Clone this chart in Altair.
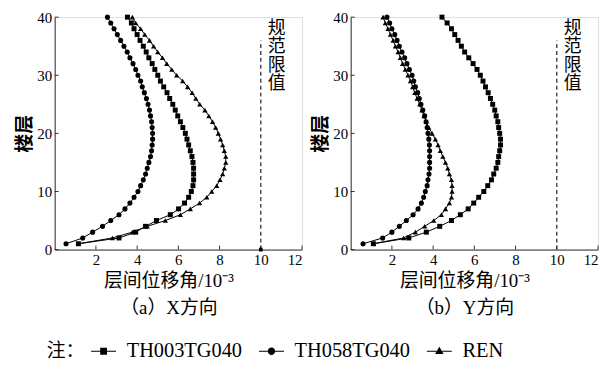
import altair as alt
import pandas as pd

floors = list(range(1, 41))
series_names = ["TH003TG040", "TH058TG040", "REN"]

# (a) X direction
x_th003 = [1.15, 3.12, 3.93, 4.41, 4.94, 5.61, 6.01, 6.30, 6.50, 6.63,
           6.71, 6.74, 6.74, 6.74, 6.71, 6.66, 6.58, 6.50, 6.42, 6.34,
           6.22, 6.10, 5.97, 5.85, 5.73, 5.58, 5.45, 5.29, 5.13, 5.00,
           4.86, 4.73, 4.57, 4.44, 4.30, 4.14, 4.00, 3.85, 3.72, 3.53]
x_th058 = [0.55, 1.36, 1.84, 2.32, 2.72, 3.12, 3.41, 3.65, 3.85, 4.04,
           4.17, 4.30, 4.41, 4.49, 4.57, 4.65, 4.70, 4.73, 4.75, 4.75,
           4.73, 4.70, 4.65, 4.60, 4.53, 4.45, 4.35, 4.25, 4.17, 4.04,
           3.93, 3.80, 3.65, 3.52, 3.36, 3.20, 3.04, 2.88, 2.72, 2.56]
x_ren = [1.15, 2.80, 3.77, 4.49, 5.37, 6.10, 6.58, 7.03, 7.38, 7.62,
         7.86, 8.02, 8.15, 8.23, 8.30, 8.30, 8.23, 8.15, 8.05, 7.94,
         7.81, 7.66, 7.48, 7.29, 7.04, 6.85, 6.67, 6.45, 6.21, 5.92,
         5.68, 5.44, 5.23, 5.00, 4.80, 4.60, 4.37, 4.17, 3.93, 3.77]

# (b) Y direction
y_th003 = [1.10, 2.82, 3.67, 4.32, 4.89, 5.32, 5.70, 5.97, 6.21, 6.46,
           6.65, 6.83, 6.94, 7.06, 7.14, 7.18, 7.23, 7.27, 7.27, 7.23,
           7.18, 7.14, 7.06, 6.99, 6.89, 6.78, 6.67, 6.54, 6.42, 6.29,
           6.13, 5.94, 5.73, 5.53, 5.37, 5.21, 5.05, 4.89, 4.68, 4.43]
y_th058 = [0.60, 1.55, 2.00, 2.36, 2.70, 3.03, 3.27, 3.43, 3.54, 3.62,
           3.71, 3.75, 3.80, 3.83, 3.83, 3.83, 3.83, 3.82, 3.79, 3.75,
           3.71, 3.66, 3.59, 3.50, 3.41, 3.33, 3.25, 3.14, 3.06, 2.98,
           2.85, 2.73, 2.62, 2.49, 2.36, 2.25, 2.14, 2.00, 1.89, 1.76]
y_ren = [1.10, 2.57, 3.14, 3.59, 4.03, 4.40, 4.60, 4.79, 4.89, 4.92,
         4.92, 4.89, 4.79, 4.71, 4.60, 4.47, 4.35, 4.24, 4.11, 3.95,
         3.79, 3.66, 3.56, 3.46, 3.35, 3.22, 3.11, 3.01, 2.90, 2.78,
         2.65, 2.52, 2.41, 2.30, 2.17, 2.06, 1.93, 1.81, 1.68, 1.57]

x_ticks = [2, 4, 6, 8, 10, 12]
y_ticks = [0, 10, 20, 30, 40]
limit_value = 10
limit_top = 36
limit_label = "规\n范\n限\n值"
x_title = "层间位移角/10⁻³"
y_title = "楼层"
captions = ["（a）X方向", "（b）Y方向"]
legend_title = "注："

SERIF = "Liberation Serif"
FONT = "Liberation Serif, Noto Sans CJK SC, serif"
W, H = 249, 234

bar = "M-2.2,-0.1H-0.5V0.1H-2.2ZM0.5,-0.1H2.2V0.1H0.5Z"
legend_paths = [
    bar + "M-0.6,-0.6H0.6V0.6H-0.6Z",
    bar + "M-0.65,0A0.65,0.65,0,1,1,0.65,0A0.65,0.65,0,1,1,-0.65,0Z",
    bar + "M0,-0.8L0.75,0.5H-0.75Z",
]


def make_df(a, b, c):
    rows = []
    for name, vals in zip(series_names, [a, b, c]):
        for f, v in zip(floors, vals):
            rows.append({"series": name, "legend": name, "floor": f, "drift": v})
    return pd.DataFrame(rows)


def panel(df, caption, with_legend, with_dot):
    xs = alt.X("drift:Q", scale=alt.Scale(domain=[0, 12], nice=False, zero=False),
               axis=alt.Axis(values=x_ticks, ticks=False, grid=False, title=[x_title, caption],
                             titleFont=FONT, titleFontSize=19, titleFontWeight="normal",
                             titleX=W / 2 - 10, titlePadding=4, titleColor="black",
                             titleLineHeight=27,
                             labelFont=SERIF, labelFontSize=15, labelPadding=3,
                             labelColor="black", domainColor="#333"))
    ys = alt.Y("floor:Q", scale=alt.Scale(domain=[0, 40], nice=False),
               axis=alt.Axis(values=y_ticks, ticks=False, grid=False, title=y_title,
                             titleFont=FONT, titleFontSize=19, titleFontWeight="bold",
                             titlePadding=2, titleColor="black",
                             labelFont=SERIF, labelFontSize=15, labelPadding=3,
                             labelColor="black", domainColor="#333"))
    base = alt.Chart(df)
    lines = base.mark_line(color="black", strokeWidth=1).encode(
        x=xs, y=ys, detail="series:N", order="floor:Q")
    points = base.mark_point(filled=True, opacity=1, color="black").encode(
        x=xs, y=ys,
        shape=alt.Shape("series:N", scale=alt.Scale(domain=series_names,
                                                     range=["square", "circle", "triangle-up"]),
                        legend=None),
        size=alt.Size("series:N", scale=alt.Scale(domain=series_names, range=[25, 28, 32]),
                      legend=None))
    xt = alt.Chart(pd.DataFrame({"drift": x_ticks})).mark_rule(color="#333").encode(
        x=xs, y=alt.value(H), y2=alt.value(H - 4))
    yt = alt.Chart(pd.DataFrame({"floor": y_ticks})).mark_rule(color="#333").encode(
        y=ys, x=alt.value(0), x2=alt.value(4))
    lim_df = pd.DataFrame({"drift": [limit_value], "floor": [0], "top": [limit_top],
                           "label": [limit_label], "ttop": [40]})
    lim = alt.Chart(lim_df).mark_rule(color="#333", strokeDash=[4, 3], strokeWidth=1.3).encode(
        x=xs, y=ys, y2="top:Q")
    txt = alt.Chart(lim_df).mark_text(lineBreak="\n", align="left", baseline="top", dx=7, dy=3,
                                       fontSize=18, lineHeight=18.5, font=FONT,
                                       color="black").encode(
        x=xs, y=alt.Y("ttop:Q"), text="label:N")
    layers = [lines, points, xt, yt, lim, txt]
    if with_dot:
        dot = alt.Chart(lim_df).mark_square(color="black", size=14, opacity=1).encode(x=xs, y=ys)
        layers.append(dot)
    if with_legend:
        leg = base.mark_point(opacity=0, filled=True, color="black").encode(
            x=xs, y=ys,
            shape=alt.Shape("legend:N", scale=alt.Scale(domain=series_names, range=legend_paths),
                            legend=alt.Legend(orient="none", legendX=-8, legendY=326,
                                              direction="horizontal", title=legend_title,
                                              titleOrient="left", titleFont=FONT,
                                              titleFontSize=19, titleFontWeight="normal",
                                              titleColor="black", titlePadding=8,
                                              labelFont=SERIF, labelFontSize=20.5, labelColor="black",
                                              labelOffset=13, columnPadding=16, labelLimit=300,
                                              symbolSize=130, symbolFillColor="black",
                                              symbolStrokeColor="black", symbolStrokeWidth=0,
                                              symbolOpacity=1)))
        layers.append(leg)
    ch = alt.layer(*layers).resolve_scale(shape="independent").properties(width=W, height=H)
    return ch


left = panel(make_df(x_th003, x_th058, x_ren), captions[0], True, True)
right = panel(make_df(y_th003, y_th058, y_ren), captions[1], False, False)

chart = alt.hconcat(left, right, spacing=49, bounds="flush").properties(
    padding={"left": 7, "top": 0, "right": 0, "bottom": 0}
).configure_view(stroke=None).configure(background="white")

chart.save("out.html", embed_options={"renderer": "svg", "actions": False})
